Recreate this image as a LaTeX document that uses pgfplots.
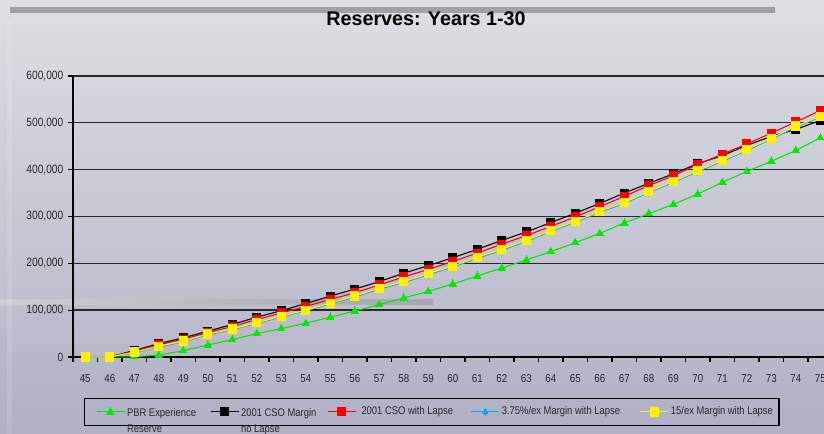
\documentclass[border=0pt]{standalone}
\usepackage{pgfplots}
\usepackage{pgfplotstable}
\pgfplotsset{compat=1.18}
\usepackage{fontspec}
\setmainfont{Liberation Sans}
\newfontfamily\narrowfont[FakeStretch=0.85]{Liberation Sans}
\definecolor{bgtop}{RGB}{222,222,227}
\definecolor{bgbot}{RGB}{176,176,198}
\definecolor{barc}{RGB}{160,160,168}
\definecolor{gridc}{RGB}{40,40,44}
\definecolor{pgreen}{RGB}{0,235,0}
\definecolor{txtc}{RGB}{40,40,44}

\pgfplotstableread{
age B R C Y G
45 0 0 0 0 0
46 0 0 0 0 0
47 14000 12500 9000 10500 500
48 28500 26000 21500 23000 4000
49 41000 38000 32500 34000 13500
50 55000 52000 47500 49000 25500
51 69500 65000 58500 60000 37000
52 85000 80000 71500 73000 50000
53 99000 94000 85500 87000 60500
54 114000 108000 98500 100000 72000
55 130000 123000 113500 115000 85000
56 145000 137000 128000 130000 98000
57 161000 154000 145000 147000 112000
58 179000 171000 159000 161000 126000
59 195000 187000 176000 178000 140000
60 212000 204000 192000 194000 156000
61 230000 222000 211000 213000 173000
62 249000 241000 228000 230000 190000
63 267000 259000 247000 249000 207000
64 287000 279000 268000 270000 225000
65 307000 299000 288000 290000 244000
66 328000 321000 309000 311000 264000
67 350000 343000 328000 330000 286000
68 371000 366000 351000 353000 306000
69 391000 387000 373000 375000 326000
70 413000 411000 396000 398000 348000
71 430000 433000 418000 420000 373000
72 452000 455000 441000 443000 396000
73 471000 478000 465000 467000 418000
74 486000 502000 491000 493000 441000
75 505000 526000 512000 514000 468000
}\data

\begin{document}
\begin{tikzpicture}[x=0.75pt,y=0.75pt]
\useasboundingbox (0,0) rectangle (824,434);
\shade[top color=bgtop, bottom color=bgbot] (0,0) rectangle (824,434);
\fill[barc] (10,421.3) rectangle (775,427);
\shade[left color={rgb,255:red,205;green,205;blue,210}, right color={rgb,255:red,166;green,166;blue,174}] (0,129.3) rectangle (433,134.7);
\fill[white,opacity=0.12] (7,0) rectangle (12,415);
\node[font=\bfseries\fontsize{14.8}{17}\selectfont, anchor=base, text=black] at (426,408) {Reserves: Years 1-30};
\begin{axis}[
  at={(54.75pt,57.75pt)}, anchor=south west,
  scale only axis, width=563.25pt, height=210.75pt,
  xmin=44.5, xmax=75.15, ymin=0, ymax=600000,
  axis x line*=bottom, axis y line*=left,
  axis line style={black, line width=1.3pt},
  tick align=outside, major tick length=3.75pt,
  tick style={black, line width=0.9pt},
  xtick={44.5,45.5,...,75.5},
  xticklabel={\pgfmathparse{int(\tick+0.5)}\pgfmathresult},
  xticklabel style={xshift=9.1875pt, yshift=-6pt, font=\narrowfont\fontsize{8.6}{10}\selectfont, text=txtc},
  ytick={0,100000,...,600000},
  scaled y ticks=false,
  yticklabel style={font=\narrowfont\fontsize{9}{10}\selectfont, text=txtc},
  /pgf/number format/.cd, fixed, 1000 sep={,}, assume math mode=true, /pgfplots/.cd,
  ymajorgrids, major grid style={gridc, line width=1pt},
  clip=false,
  legend columns=5,
  legend cell align=left,
  legend image code/.code={\draw[mark repeat=2,mark phase=2,#1] plot coordinates {(0pt,0pt) (10.5pt,0pt) (21pt,0pt)};},
  legend style={at={(0.0146,-0.146)}, anchor=north west, draw=black, line width=1pt, fill=none,
    font=\narrowfont\fontsize{8.3}{12}\selectfont, text=txtc,
    inner xsep=8.5pt, inner ysep=5pt, nodes={inner sep=0pt},
    /tikz/every odd column/.style={column sep=0pt}},
]
\addplot[pgreen, line width=0.8pt, mark=triangle*, mark size=3.2pt, mark options={fill=pgreen, draw=pgreen, line width=0pt}] table[x=age,y=G] {\data};
\addlegendentry{\makebox[63.75pt][l]{\hspace{1.5pt}\begin{tabular}[t]{@{}l@{}}PBR Experience\\Reserve\end{tabular}}}
\addplot[black, line width=0.8pt, mark=square*, mark size=3pt, mark options={fill=black, draw=black, line width=0pt}] table[x=age,y=B] {\data};
\addlegendentry{\makebox[66pt][l]{\hspace{1.5pt}\begin{tabular}[t]{@{}l@{}}2001 CSO Margin\\no Lapse\end{tabular}}}
\addplot[red, line width=0.8pt, mark=square*, mark size=3pt, mark options={fill=red, draw=red, line width=0pt}] table[x=age,y=R] {\data};
\addlegendentry{\makebox[86pt][l]{\hspace{4pt}2001 CSO with Lapse}}
\addplot[cyan, line width=0.8pt, mark=diamond*, mark size=2.6pt, mark options={fill=cyan, draw=cyan, line width=0pt}] table[x=age,y=C] {\data};
\addlegendentry{\makebox[105pt][l]{\hspace{1.5pt}3.75\%/ex Margin with Lapse}}
\addplot[yellow, line width=0.8pt, mark=square*, mark size=3.1pt, mark options={fill=yellow, draw=yellow, line width=0pt}] table[x=age,y=Y] {\data};
\addlegendentry{\makebox[74pt][l]{\hspace{1.5pt}15/ex Margin with Lapse}}
\end{axis}
\end{tikzpicture}
\end{document}
